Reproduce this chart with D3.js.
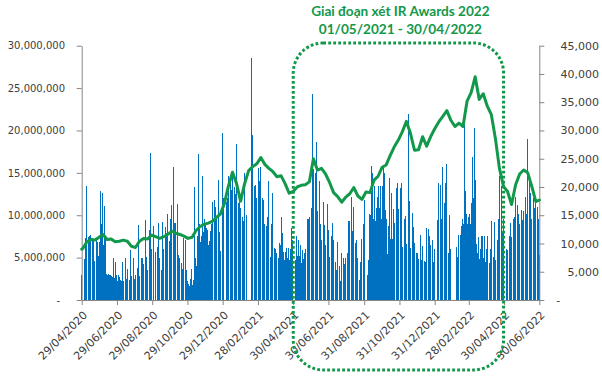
<!DOCTYPE html>
<html><head><meta charset="utf-8">
<script src="https://cdn.jsdelivr.net/npm/d3@7"></script>
<style>body{margin:0;background:#fff}svg{display:block}</style>
</head><body><svg id="c" width="602" height="383"></svg>
<script>
// ---------- DATA ----------
const titleLines = ["Giai đoạn xét IR Awards 2022", "01/05/2021 - 30/04/2022"];
const startDate = "2020-04-29";
const endDate = "2022-06-30";
const periodStart = "2021-05-01";
const periodEnd = "2022-04-30";
const holidays = ["2020-04-30","2020-05-01","2020-09-02","2021-01-01","2021-02-10","2021-02-11","2021-02-12",
  "2021-02-15","2021-02-16","2021-04-21","2021-04-30","2021-05-03","2021-09-02","2021-09-03","2022-01-03",
  "2022-01-31","2022-02-01","2022-02-02","2022-02-03","2022-02-04","2022-04-11","2022-05-02","2022-05-03"];
// daily trading volume (millions of shares), one line per month
const volumeMillions = [
 3.0,
 4.8,5.0,7.3,13.5,7.7,7.4,7.6,7.5,7.7,7.6,7.3,7.1,7.2,3.9,4.6,7.1,6.8,3.8,5.2,6.9,
 12.8,6.1,9.0,12.6,6.5,11.1,7.5,7.2,3.1,3.0,3.1,2.9,2.8,2.9,2.8,2.7,5.0,2.0,2.6,4.5,3.0,2.2,
 2.0,2.9,2.7,2.4,2.3,4.5,3.6,2.2,1.7,5.0,1.9,2.5,3.7,2.4,2.1,2.4,5.9,2.8,3.2,4.9,1.8,2.5,3.0,
 3.8,3.6,4.9,8.9,2.8,3.4,4.9,3.9,5.0,4.2,9.4,3.5,4.0,5.1,3.5,4.6,8.2,17.3,5.5,6.0,7.7,
 8.7,5.7,5.7,6.2,5.7,9.1,4.9,2.2,3.5,4.7,9.2,2.5,6.0,8.6,7.9,6.5,10.2,8.0,7.0,9.6,5.5,
 11.2,7.5,15.7,9.1,8.5,9.1,6.0,11.3,5.3,4.9,5.0,4.9,4.4,3.2,3.6,7.3,5.0,7.1,2.8,3.5,2.2,1.9,
 1.6,2.5,1.3,3.7,1.8,2.4,3.9,13.3,5.0,4.0,7.6,17.2,10.8,9.0,6.9,7.5,14.6,7.2,8.0,9.5,9.1,
 8.5,8.0,8.2,6.5,7.0,8.1,7.9,9.0,11.6,11.8,10.5,11.0,10.0,9.5,14.2,8.5,8.0,6.5,5.8,19.7,12.2,12.0,11.6,
 11.6,10.6,10.6,12.0,14.6,14.3,10.6,11.4,13.0,14.4,9.8,13.3,9.7,12.5,18.4,11.4,11.1,11.6,10.5,10.8,
 9.8,9.3,9.3,9.4,15.0,10.0,8.0,28.5,19.5,15.0,13.4,11.4,13.6,11.8,12.0,
 15.6,13.4,14.0,15.7,13.8,12.0,11.8,11.6,9.0,6.5,8.7,9.8,8.7,10.5,14.0,5.1,4.9,9.0,12.6,8.7,6.1,4.9,6.0,
 4.9,5.5,4.9,6.7,5.5,6.5,9.8,7.9,5.7,5.5,4.7,5.7,6.1,5.0,6.1,4.7,6.0,8.5,2.0,7.1,
 4.7,6.0,7.5,5.2,7.1,5.2,4.7,6.5,4.4,5.9,4.8,3.6,5.6,6.0,5.5,9.6,6.8,9.5,9.8,8.0,
 10.8,13.2,24.3,15.4,13.4,15.0,18.6,14.2,10.5,14.0,12.0,9.0,7.5,7.1,11.6,8.0,8.9,7.5,6.5,11.3,7.0,5.2,
 8.2,5.1,7.5,6.7,9.1,7.1,6.0,4.5,4.5,3.5,6.9,5.3,4.0,3.6,2.2,5.5,5.1,4.9,3.6,4.2,5.0,3.8,
 5.5,6.1,9.3,6.1,9.3,12.2,8.1,8.0,9.5,11.0,6.7,7.1,6.9,5.0,3.6,2.4,3.6,4.5,5.1,7.2,9.0,11.8,
 4.0,3.0,3.5,4.7,10.2,10.0,15.8,7.7,15.0,9.6,13.4,9.3,10.8,9.3,12.2,13.4,10.8,11.0,13.4,9.5,
 13.4,15.6,15.0,10.6,10.6,9.6,5.4,8.7,14.4,8.1,7.2,12.6,7.2,9.1,10.7,9.1,10.7,13.2,13.8,11.5,10.7,
 10.7,13.2,12.0,13.8,6.3,6.9,9.6,6.3,9.9,6.6,8.0,22.0,11.7,11.7,6.1,4.1,10.3,7.0,8.6,6.7,5.0,5.5,
 5.5,4.4,4.8,6.0,7.7,4.7,6.4,5.3,4.6,3.1,4.5,5.5,8.5,8.1,8.4,7.5,5.7,6.5,7.1,5.7,4.5,5.0,6.0,
 8.3,9.4,6.9,13.8,13.6,6.1,9.6,15.7,11.4,11.4,5.5,13.8,5.3,16.1,5.5,7.0,10.0,6.0,5.0,
 6.3,5.1,5.0,5.1,7.7,7.7,8.7,4.3,9.6,9.0,20.6,12.8,5.9,10.2,9.0,9.8,
 8.5,10.2,9.0,11.4,16.9,12.0,20.3,7.1,14.2,6.6,5.5,6.4,7.4,4.8,6.0,7.6,7.5,6.5,5.0,7.5,4.5,3.9,6.0,
 7.5,4.4,3.1,5.5,6.0,9.3,5.1,9.2,5.5,4.7,7.1,3.9,6.5,9.6,14.6,13.4,10.7,8.0,5.1,9.5,
 5.9,6.0,5.9,7.6,6.7,9.1,7.5,7.4,9.6,7.9,9.8,6.9,12.2,6.1,11.2,10.2,8.0,9.0,10.0,10.6,
 9.4,10.5,9.4,12.2,9.6,10.2,10.0,19.0,14.4,9.5,12.6,9.4,9.5,12.0,10.8,9.8,11.8,9.4,11.0,9.6,5.3,5.3
];
// share price (thousand VND): first day, then every Friday from firstFriday, then last day
const firstFriday = "2020-05-01";
const priceThousands = [
 9.0,
 9.1,10.3,10.7,10.6,11.1,11.6,10.7,10.8,10.3,10.4,10.6,10.4,9.5,9.3,10.4,10.9,10.8,11.5,11.2,
 10.9,11.2,11.6,12.2,11.8,11.6,11.3,10.9,11.1,12.3,13.0,13.4,13.6,13.9,14.6,15.2,17.1,20.2,22.6,
 20.6,17.5,20.6,22.9,23.6,24.1,25.2,24.0,23.3,22.7,21.8,22.0,20.6,18.9,19.2,20.0,20.3,20.4,20.9,
 25.0,23.0,23.3,22.3,20.8,19.0,18.3,17.3,18.2,18.8,19.9,18.4,17.8,19.1,19.0,21.2,21.9,23.5,23.9,
 25.6,27.1,28.3,29.8,31.6,29.5,26.5,26.6,28.9,27.2,28.9,30.3,31.5,32.5,33.5,31.8,30.7,31.3,30.7,
 35.2,36.7,39.5,35.5,36.5,34.3,32.8,28.6,23.3,20.1,19.2,16.9,20.4,22.3,23.0,22.5,20.1,17.4,
 17.7
];
const xTickLabels = ["29/04/2020","29/06/2020","29/08/2020","29/10/2020","29/12/2020","28/02/2021","30/04/2021",
  "30/06/2021","31/08/2021","31/10/2021","31/12/2021","28/02/2022","30/04/2022","30/06/2022"];
const leftTicks = [0,5000000,10000000,15000000,20000000,25000000,30000000];
const rightTicks = [0,5000,10000,15000,20000,25000,30000,35000,40000,45000];

// ---------- CHART ----------
const M = {left: 81.7, right: 539.3, top: 45.7, bottom: 300};
const BLUE = "#0070C0", GREEN = "#12984A", AXIS = "#868686", TXT = "#404040";
const parse = d3.timeParse("%Y-%m-%d"), fmtKey = d3.timeFormat("%Y-%m-%d");
const t0 = parse(startDate), t1 = parse(endDate);
const hol = new Set(holidays);
const tradingDays = d3.timeDay.range(t0, d3.timeDay.offset(t1, 1))
  .filter(d => d.getDay() !== 0 && d.getDay() !== 6 && !hol.has(fmtKey(d)));
const n = Math.min(tradingDays.length, volumeMillions.length);
const bars = d3.range(n).map(i => ({date: tradingDays[i], v: volumeMillions[i] * 1e6}));

const priceDates = [t0];
let f = parse(firstFriday);
while (priceDates.length < priceThousands.length - 1) { priceDates.push(f); f = d3.timeDay.offset(f, 7); }
priceDates.push(t1);
const line = priceThousands.map((v, i) => ({date: priceDates[i], v: v * 1000}));

const x = d3.scaleTime().domain([t0, t1]).range([M.left, M.right]);
const yL = d3.scaleLinear().domain([0, 30000000]).range([M.bottom, M.top]);
const yR = d3.scaleLinear().domain([0, 45000]).range([M.bottom, M.top]);

const svg = d3.select("#c");
const FONT = "DejaVu Sans, Verdana, sans-serif";

// bars
svg.append("g").selectAll("rect").data(bars).join("rect")
  .attr("x", d => x(d.date) - 0.5).attr("width", 1)
  .attr("y", d => yL(d.v)).attr("height", d => yL(0) - yL(d.v))
  .attr("fill", BLUE).attr("shape-rendering", "crispEdges");

// axes
const fmtL = d => d === 0 ? "-" : d3.format(",")(d);
const gL = svg.append("g").attr("transform", `translate(${M.left},0)`)
  .call(d3.axisLeft(yL).tickValues(leftTicks).tickSize(5).tickSizeOuter(0).tickPadding(11.7).tickFormat(fmtL));
const gR = svg.append("g").attr("transform", `translate(${M.right},0)`)
  .call(d3.axisRight(yR).tickValues(rightTicks).tickSize(5).tickSizeOuter(0).tickPadding(10.7).tickFormat(fmtL));
const tickDates = xTickLabels.map(s => d3.timeParse("%d/%m/%Y")(s));
const gX = svg.append("g").attr("transform", `translate(0,${M.bottom})`)
  .call(d3.axisBottom(x).tickValues(tickDates).tickSize(5).tickSizeOuter(0).tickFormat((d, i) => xTickLabels[i]));
[gL, gR, gX].forEach(g => {
  g.selectAll("path.domain").attr("stroke", AXIS).attr("stroke-width", 1);
  g.selectAll(".tick line").attr("stroke", AXIS);
  g.selectAll("text").attr("fill", TXT).style("font-family", FONT).style("font-size", "10px");
});
gL.selectAll(".tick text").filter(d => d === 0).attr("dx", -5);
// right labels: right-aligned (accounting style), dash left-aligned
gR.selectAll(".tick text").style("font-size", "11px")
  .attr("text-anchor", d => d === 0 ? "start" : "end")
  .attr("x", d => d === 0 ? 17 : 599 - M.right);
gX.selectAll(".tick text")
  .style("font-size", "11px")
  .attr("text-anchor", "end").attr("y", null)
  .attr("transform", "translate(3,13) rotate(-45)")
  .attr("dy", "0.35em");

// price line
svg.append("path").datum(line)
  .attr("fill", "none").attr("stroke", GREEN).attr("stroke-width", 3)
  .attr("stroke-linejoin", "round").attr("stroke-linecap", "round")
  .attr("d", d3.line().x(d => x(d.date)).y(d => yR(d.v)));

// highlight period box
const bx0 = x(parse(periodStart)) - 0.5, bx1 = x(parse(periodEnd)) - 0.5;
svg.append("rect").attr("x", bx0).attr("y", 43).attr("width", bx1 - bx0).attr("height", 327)
  .attr("rx", 30).attr("ry", 30).attr("fill", "none")
  .attr("stroke", GREEN).attr("stroke-width", 3).attr("stroke-dasharray", "2.8 2.2");

// title
const tx = (bx0 + bx1) / 2 + 2;
svg.append("g").selectAll("text").data(titleLines).join("text")
  .attr("x", tx).attr("y", (d, i) => 16 + i * 17.5)
  .attr("text-anchor", "middle").attr("fill", GREEN)
  .style("font-family", "Lato, 'Open Sans', sans-serif").style("font-weight", "700").style("font-size", "13.6px")
  .text(d => d);
</script></body></html>
